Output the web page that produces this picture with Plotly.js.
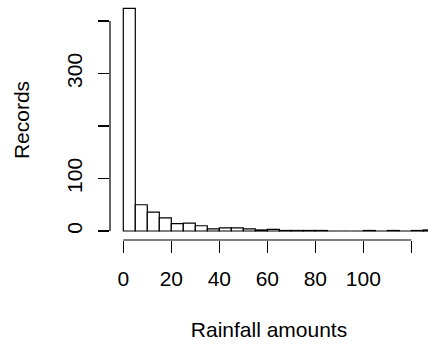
<!DOCTYPE html>
<html>
<head>
<meta charset="utf-8">
<script src="https://cdn.plot.ly/plotly-3.0.1.min.js"></script>
<style>html,body{margin:0;padding:0;background:#fff;}#chart{width:428px;height:345px;}</style>
</head>
<body>
<div id="chart"></div>
<script>
// Histogram bins (left edges, width 5) and counts
const binStarts = [0,5,10,15,20,25,30,35,40,45,50,55,60,65,70,75,80,85,90,95,100,105,110,115,120,125];
const binWidth = 5;
const counts = [424,50,36,25,14,15,10,4,6,6,4,2,3,1,1,1,1,0,0,0,1,0,1,0,1,2];
const xTickVals = [0,20,40,60,80,100,120];
const xTickText = ['0','20','40','60','80','100',''];
const yTickVals = [0,100,200,300,400];
const yTickText = ['0','100','','300',''];

const centers = binStarts.map(s => s + binWidth/2);
const font = {family: 'Liberation Sans, Arial, Helvetica, sans-serif', size: 21, color: '#000'};

const trace = {
  type: 'bar',
  x: centers,
  y: counts,
  width: binStarts.map(() => binWidth),
  marker: {color: '#fff', line: {color: '#000', width: 1.2}},
  hoverinfo: 'skip'
};

const layout = {
  width: 428, height: 345,
  margin: {l: 110, r: 0, t: 0, b: 105, pad: 0},
  paper_bgcolor: '#fff', plot_bgcolor: '#fff',
  font: font,
  showlegend: false,
  bargap: 0,
  xaxis: {
    range: [-5.54, 126.96],
    tickmode: 'array', tickvals: xTickVals, ticktext: xTickText,
    ticks: 'outside', ticklen: 12, tickwidth: 1.2, tickcolor: '#000',
    ticklabelstandoff: 8,
    showline: false, showgrid: false, zeroline: false,
    tickfont: font,
    automargin: false,
    title: {text: 'Rainfall amounts', font: font, standoff: 33}
  },
  yaxis: {
    range: [-17.14, 440],
    tickmode: 'array', tickvals: yTickVals, ticktext: yTickText,
    ticks: 'outside', ticklen: 11, tickwidth: 1.2, tickcolor: '#000',
    tickangle: -90,
    ticklabelstandoff: 8,
    showline: false, showgrid: false, zeroline: false,
    tickfont: font,
    automargin: false,
    title: {text: 'Records', font: font, standoff: 27}
  },
  shapes: [
    {type: 'line', xref: 'x', yref: 'paper', x0: xTickVals[0], x1: xTickVals[xTickVals.length-1], y0: 0, y1: 0, line: {color: '#000', width: 1.2}},
    {type: 'line', xref: 'paper', yref: 'y', x0: 0, x1: 0, y0: yTickVals[0], y1: yTickVals[yTickVals.length-1], line: {color: '#000', width: 1.2}}
  ]
};

Plotly.newPlot('chart', [trace], layout, {staticPlot: true, displayModeBar: false});
</script>
</body>
</html>
